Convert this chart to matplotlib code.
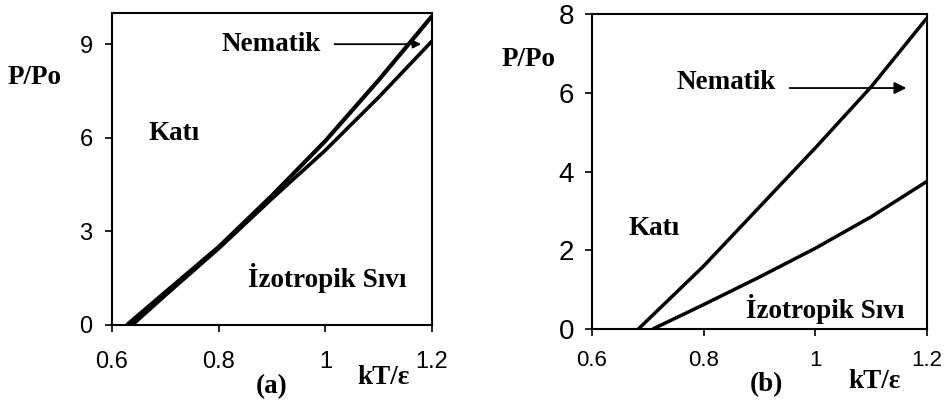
import numpy as np
import matplotlib
matplotlib.use("Agg")
import matplotlib.pyplot as plt
from matplotlib.patches import Rectangle

# panel (a) boundaries
a_x_upper = [0.628, 0.70, 0.80, 0.90, 1.00, 1.10, 1.20]
a_y_upper = [0.0, 1.05, 2.50, 4.15, 5.90, 7.85, 9.90]
a_x_lower = [0.638, 0.70, 0.80, 0.90, 1.00, 1.10, 1.20]
a_y_lower = [0.0, 0.95, 2.45, 4.05, 5.60, 7.30, 9.10]

# panel (b) boundaries
b_x_upper = [0.683, 0.80, 0.90, 1.00, 1.10, 1.20]
b_y_upper = [0.0, 1.60, 3.10, 4.60, 6.15, 7.90]
b_x_lower = [0.709, 0.80, 0.90, 1.00, 1.10, 1.20]
b_y_lower = [0.0, 0.62, 1.32, 2.05, 2.85, 3.75]

a_yticks = [0, 3, 6, 9]
b_yticks = [0, 2, 4, 6, 8]
xticks = [0.6, 0.8, 1.0, 1.2]
xticklabels = ["0.6", "0.8", "1", "1.2"]

sans = "Liberation Sans"
serif = "Liberation Serif"

fig = plt.figure(figsize=(9.46, 4.07), dpi=100)
ax1 = fig.add_axes([0.1184, 0.2015, 0.3383, 0.7666])
ax2 = fig.add_axes([0.6258, 0.1916, 0.3541, 0.7740])

for ax in (ax1, ax2):
    for s in ax.spines.values():
        s.set_linewidth(1.5)
    ax.set_xlim(0.6, 1.2)
    ax.set_xticks(xticks)
    ax.set_xticklabels(xticklabels)
    ax.tick_params(direction="out", length=5, width=1.2)

# (a)
ax1.plot(a_x_upper, a_y_upper, color="black", lw=3.0, solid_capstyle="butt")
ax1.plot(a_x_lower, a_y_lower, color="black", lw=2.6, solid_capstyle="butt")
ax1.set_ylim(0, 10)
ax1.set_yticks(a_yticks)
ax1.tick_params(axis="y", labelsize=17, pad=9)
ax1.tick_params(axis="x", labelsize=17, pad=14)
for lab in ax1.get_xticklabels() + ax1.get_yticklabels():
    lab.set_fontfamily(sans)

bold = dict(family=serif, fontweight="bold", fontsize=19.5)
ax1.text(0.898, 9.0, "Nematik", ha="center", va="center", **bold)
ax1.annotate("", xy=(1.185, 9.0), xytext=(1.012, 9.0),
             arrowprops=dict(arrowstyle="-|>", color="black", lw=1.3,
                             mutation_scale=12))
ax1.text(0.668, 6.15, "Katı", ha="left", va="center", **bold)
ax1.text(0.855, 1.5, "İzotropik Sıvı", ha="left", va="center", **bold)
fig.text(8 / 946, 1 - 77 / 407, "P/Po", ha="left", va="center", **bold)
fig.text(272 / 946, 1 - 387 / 407, "(a)", ha="center", va="center", **bold)
fig.text(384 / 946, 1 - 377 / 407, "kT/ε", ha="center", va="center", **bold)

# (b)
ax2.plot(b_x_upper, b_y_upper, color="black", lw=2.5, solid_capstyle="butt")
ax2.plot(b_x_lower, b_y_lower, color="black", lw=2.5, solid_capstyle="butt")
ax2.set_ylim(0, 8)
ax2.set_yticks(b_yticks)
ax2.tick_params(axis="y", labelsize=20, pad=8)
ax2.tick_params(axis="x", labelsize=16, pad=10)
for lab in ax2.get_xticklabels() + ax2.get_yticklabels():
    lab.set_fontfamily(sans)

ax2.text(0.752, 6.25, "Nematik", ha="left", va="center", **bold)
ax2.annotate("", xy=(1.168, 6.12), xytext=(0.949, 6.12),
             arrowprops=dict(arrowstyle="-|>", color="black", lw=1.3,
                             mutation_scale=18))
ax2.text(0.666, 2.56, "Katı", ha="left", va="center", **bold)
t = ax2.text(0.875, 0.5, "İzotropik Sıvı", ha="left", va="center", **bold)
clip = Rectangle((0.6, 0.36), 0.6, 8, transform=ax2.transData)
t.set_clip_path(clip)
fig.text(502 / 946, 1 - 60 / 407, "P/Po", ha="left", va="center", **bold)
fig.text(766 / 946, 1 - 385 / 407, "(b)", ha="center", va="center", **bold)
fig.text(875 / 946, 1 - 382 / 407, "kT/ε", ha="center", va="center", **bold)

fig.savefig("out.png", dpi=100, facecolor="white")
